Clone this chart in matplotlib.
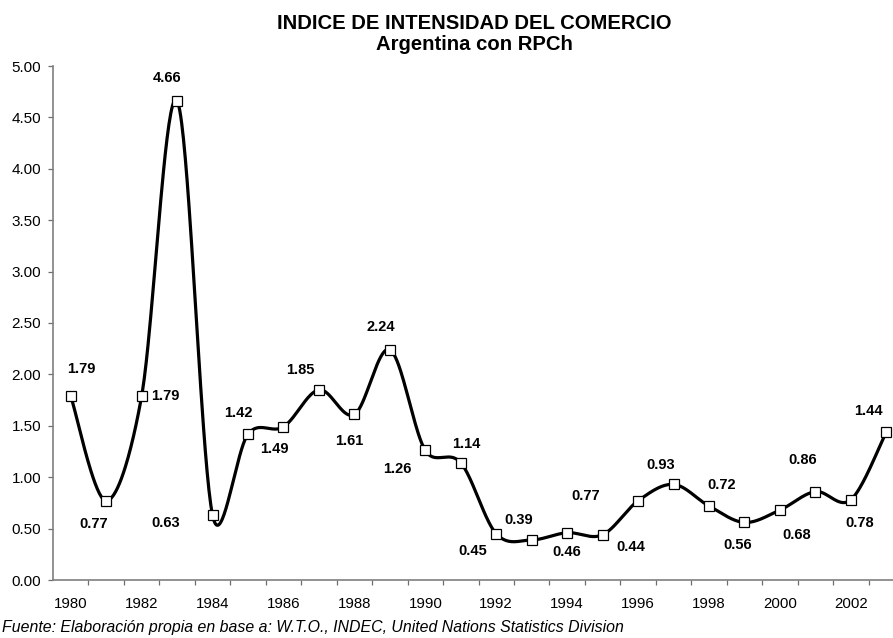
import numpy as np
import matplotlib
matplotlib.use("Agg")
import matplotlib.pyplot as plt
from matplotlib.ticker import FixedLocator, FormatStrFormatter

plt.rcParams['font.family'] = ['Liberation Sans', 'DejaVu Sans']

years = list(range(1980, 2004))
values = [1.79, 0.77, 1.79, 4.66, 0.63, 1.42, 1.49, 1.85, 1.61, 2.24, 1.26, 1.14,
          0.45, 0.39, 0.46, 0.44, 0.77, 0.93, 0.72, 0.56, 0.68, 0.86, 0.78, 1.44]
year_labels = [str(y) for y in range(1980, 2004, 2)]

# where each value label sits relative to its marker (pixels, y down)
label_offsets = [(11, -27), (-13, 23), (24, 0), (-10, -23), (-47, 8), (-10, -21),
                 (-9, 22), (-19, -20), (-5, 27), (-9, -23), (-28, 19), (6, -19),
                 (-23, 17), (-13, -20), (0, 19), (28, 12), (-52, -5), (-13, -19),
                 (13, -21), (-7, 23), (17, 25), (-13, -32), (9, 23), (-18, -21)]


def smooth(pts, n=40):
    # excel style smoothed line, done in screen space:
    # bezier handles = (next - prev) / 6, capped at half the segment length
    pts = np.asarray(pts, float)
    out = []
    m = len(pts)
    for i in range(m - 1):
        p0 = pts[max(i - 1, 0)]
        p1 = pts[i]
        p2 = pts[i + 1]
        p3 = pts[min(i + 2, m - 1)]
        half = np.hypot(*(p2 - p1)) / 2
        t1 = (p2 - p0) / 6
        t2 = (p3 - p1) / 6
        l1 = np.hypot(*t1)
        l2 = np.hypot(*t2)
        if l1 > half:
            t1 = t1 * half / l1
        if l2 > half:
            t2 = t2 * half / l2
        c1 = p1 + t1
        c2 = p2 - t2
        t = np.linspace(0, 1, n)[:, None]
        seg = (1 - t) ** 3 * p1 + 3 * (1 - t) ** 2 * t * c1 + 3 * (1 - t) * t ** 2 * c2 + t ** 3 * p2
        out.append(seg if i == 0 else seg[1:])
    return np.vstack(out)


fig = plt.figure(figsize=(8.93, 6.38), dpi=100)
ax = fig.add_axes([53 / 893, 1 - 580 / 638, (904 - 53) / 893, (580 - 66) / 638])
ax.set_xlim(1979.5, 2003.5)
ax.set_ylim(0, 5)

pix = ax.transData.transform(np.column_stack([years, values]))
curve = ax.transData.inverted().transform(smooth(pix))
ax.plot(curve[:, 0], curve[:, 1], color='black', lw=2.3, solid_capstyle='round', zorder=2)
ax.plot(years, values, ls='none', marker='s', markersize=7, markerfacecolor='white',
        markeredgecolor='black', markeredgewidth=0.9, zorder=3)

for yr, v, (dx, dy) in zip(years, values, label_offsets):
    ax.annotate(f"{v:.2f}", (yr, v), xytext=(dx, -dy), textcoords='offset pixels',
                ha='center', va='center', fontsize=10.5, fontweight='bold')

ax.set_yticks(np.arange(0, 5.01, 0.5))
ax.yaxis.set_major_formatter(FormatStrFormatter('%.2f'))
ax.set_xticks(range(1980, 2004, 2))
ax.set_xticklabels(year_labels)
ax.xaxis.set_minor_locator(FixedLocator(np.arange(1980.5, 2004, 1)))
ax.tick_params(axis='x', which='major', length=0, pad=12.5, labelsize=10.8)
ax.tick_params(axis='x', which='minor', length=3.6, width=0.9, color='#6e6e6e')
ax.tick_params(axis='y', length=3.6, width=0.9, color='#6e6e6e', pad=5, labelsize=11)

for s in ['top', 'right']:
    ax.spines[s].set_visible(False)
for s in ['left', 'bottom']:
    ax.spines[s].set_color('#7f7f7f')
    ax.spines[s].set_linewidth(1.2)

fig.text(474.5 / 893, 1 - 29 / 638, "INDICE DE INTENSIDAD DEL COMERCIO", ha='center',
         va='baseline', fontsize=14.6, fontweight='bold')
fig.text(474.5 / 893, 1 - 50 / 638, "Argentina con RPCh", ha='center',
         va='baseline', fontsize=14.6, fontweight='bold')
fig.text(0.002, 1 - 632 / 638, "Fuente: Elaboración propia en base a: W.T.O., INDEC, United Nations Statistics Division",
         ha='left', va='baseline', fontsize=11.4, style='italic')

fig.savefig('out.png', dpi=100, facecolor='white')
